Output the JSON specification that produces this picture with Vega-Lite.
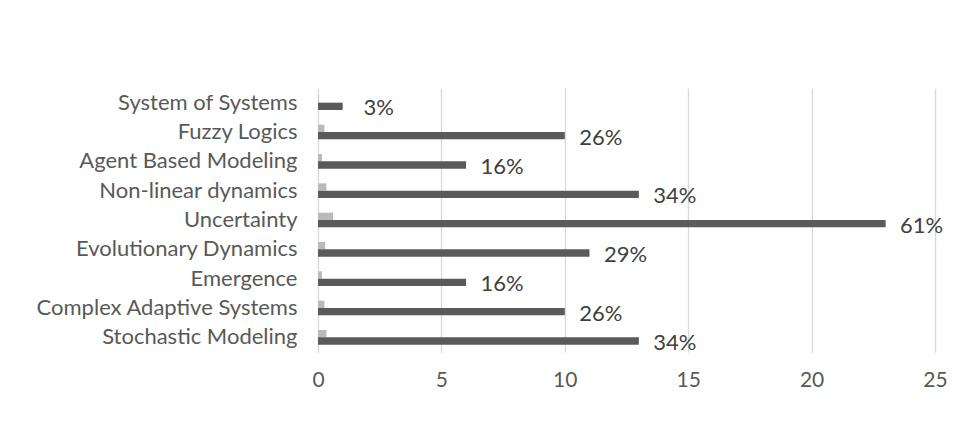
{
  "$schema": "https://vega.github.io/schema/vega-lite/v6.json",
  "width": 617,
  "height": 264,
  "autosize": "none",
  "padding": {"left": 318, "top": 88, "right": 24, "bottom": 85},
  "background": "white",
  "config": {"view": {"stroke": null}, "font": "Lato"},
  "data": {"values": [
    {"topic": "System of Systems", "count": 1, "share": 0.03, "label": "3%"},
    {"topic": "Fuzzy Logics", "count": 10, "share": 0.26, "label": "26%"},
    {"topic": "Agent Based Modeling", "count": 6, "share": 0.16, "label": "16%"},
    {"topic": "Non-linear dynamics", "count": 13, "share": 0.34, "label": "34%"},
    {"topic": "Uncertainty", "count": 23, "share": 0.61, "label": "61%"},
    {"topic": "Evolutionary Dynamics", "count": 11, "share": 0.29, "label": "29%"},
    {"topic": "Emergence", "count": 6, "share": 0.16, "label": "16%"},
    {"topic": "Complex Adaptive Systems", "count": 10, "share": 0.26, "label": "26%"},
    {"topic": "Stochastic Modeling", "count": 13, "share": 0.34, "label": "34%"}
  ]},
  "transform": [{"fold": ["share", "count"], "as": ["series", "value"]}],
  "encoding": {
    "y": {
      "field": "topic", "type": "nominal",
      "sort": ["System of Systems", "Fuzzy Logics", "Agent Based Modeling", "Non-linear dynamics", "Uncertainty", "Evolutionary Dynamics", "Emergence", "Complex Adaptive Systems", "Stochastic Modeling"],
      "scale": {"paddingInner": 0.5, "paddingOuter": 0.25},
      "axis": {"title": null, "ticks": false, "domain": false, "grid": false, "labelPadding": 21, "labelFontSize": 22, "labelColor": "#595959", "labelLimit": 400}
    },
    "yOffset": {"field": "series", "type": "nominal", "sort": ["share", "count"], "scale": {"paddingInner": 0, "paddingOuter": 0}},
    "x": {
      "field": "value", "type": "quantitative",
      "scale": {"domain": [0, 25], "nice": false},
      "axis": {"title": null, "values": [0, 5, 10, 15, 20, 25], "ticks": false, "domain": false, "gridColor": "#d9d9d9", "gridWidth": 1.3, "labelFontSize": 21, "labelColor": "#595959", "labelPadding": 17, "labelFlush": false}
    }
  },
  "layer": [
    {
      "mark": {"type": "bar"},
      "encoding": {
        "color": {"field": "series", "type": "nominal", "scale": {"domain": ["share", "count"], "range": ["#bababa", "#5a5a5a"]}, "legend": null}
      }
    },
    {
      "transform": [{"filter": {"field": "series", "equal": "count"}}],
      "mark": {"type": "text", "align": "center", "baseline": "middle", "dx": 36, "dy": 2, "fontSize": 22, "color": "#404040"},
      "encoding": {"text": {"field": "label"}}
    }
  ]
}
